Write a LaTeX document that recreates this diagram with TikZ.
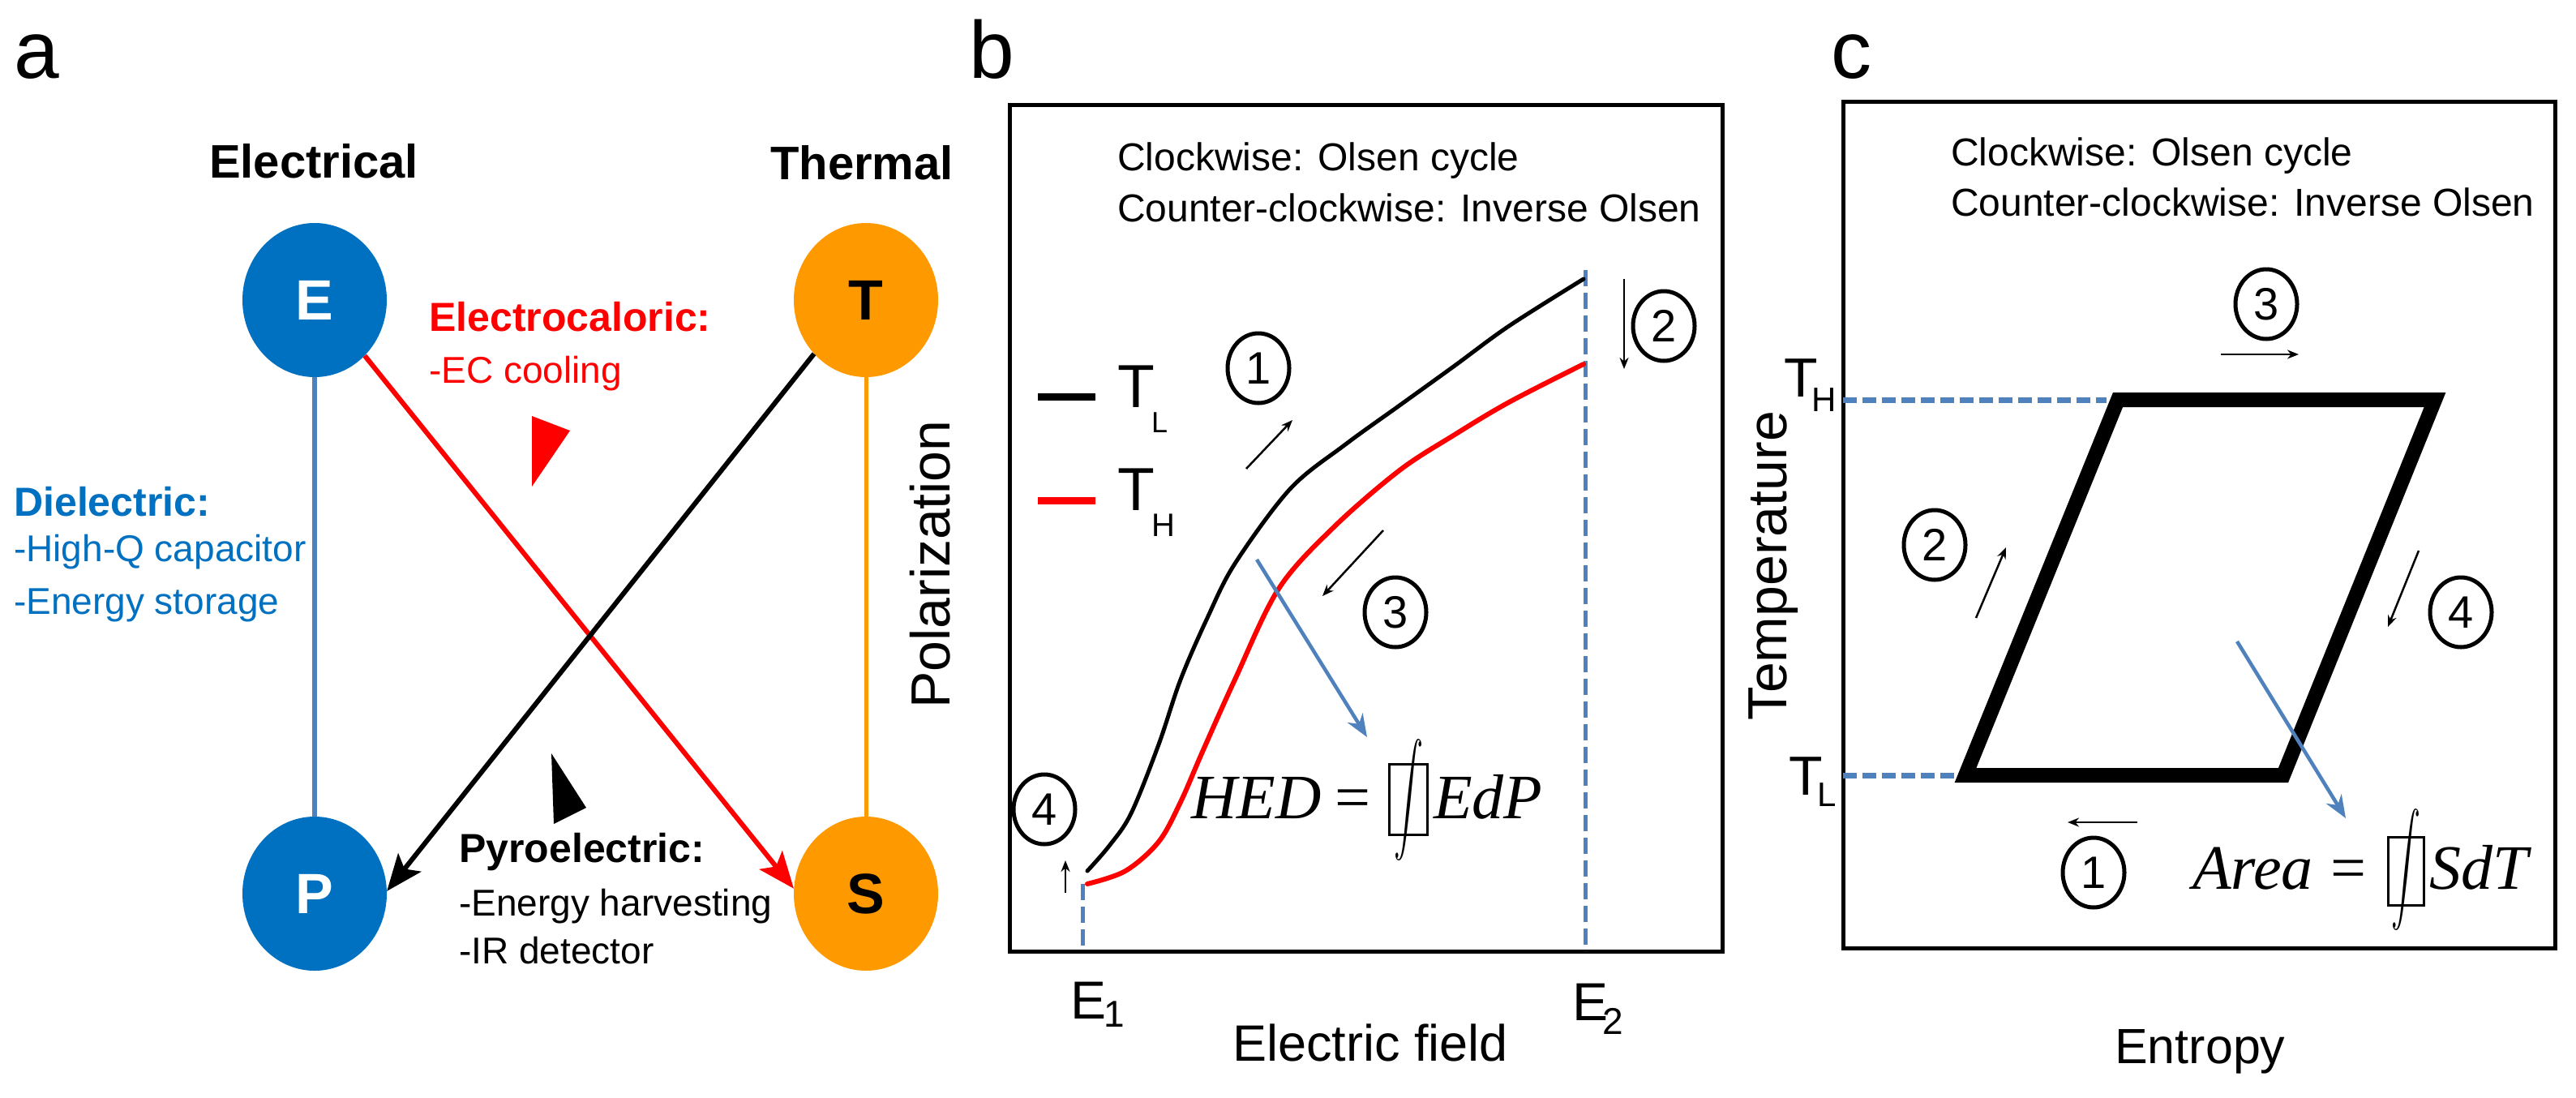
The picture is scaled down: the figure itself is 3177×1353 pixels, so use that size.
\documentclass[tikz,border=0pt]{standalone}
\usepackage{graphicx}
\usepackage{fontspec}
\setmainfont{Liberation Sans}
\newfontfamily\timesf{Liberation Serif}
\usetikzlibrary{arrows.meta,shapes.geometric}
\definecolor{cblue}{HTML}{0070C0}
\definecolor{lblue}{HTML}{4F81BD}
\definecolor{corange}{HTML}{FF9900}
\newcommand\myfs[1]{\fontsize{#1}{#1}\selectfont}
\newcommand\bigintsign{\resizebox*{36pt}{150pt}{$\displaystyle\int$}}
\begin{document}
\begin{tikzpicture}[x=1pt,y=-1pt,
  bubble/.style={ellipse, minimum width=178pt, minimum height=190pt, inner sep=0pt, font=\myfs{70}\bfseries},
  cnum/.style={ellipse, draw, line width=5pt, minimum width=76pt, minimum height=86pt, inner sep=0pt, font=\myfs{56}},
  lbl/.style={inner sep=0pt, anchor=base west},
  clbl/.style={inner sep=0pt, anchor=base},
  smallarrow/.style={line width=2.5pt, -{Stealth[length=14pt,width=11pt]}},
  bluearrow/.style={lblue, line width=4.5pt, -{Stealth[length=28pt,width=22pt]}},
  bigarrow/.style={line width=6pt, -{Stealth[length=45pt,width=36pt,inset=10pt]}},
  bdashed/.style={lblue, line width=5pt, dash pattern=on 20pt off 8pt},
  frame/.style={line width=5pt},
  formula/.style={inner sep=0pt, anchor=base west, font=\timesf\itshape\myfs{78}},
  intsign/.style={inner sep=0pt}
]
\useasboundingbox (0,0) rectangle (3177,1353);
\fill[white] (0,0) rectangle (3177,1353);

% ---------------- panel a ----------------
\node[lbl, font=\myfs{100}] (la) at (17,96) {a};
\node[clbl, font=\myfs{58}\bfseries] (elec) at (387,219) {Electrical};
\node[clbl, font=\myfs{58}\bfseries] (therm) at (1063,221) {Thermal};
\node[bubble, fill=cblue, text=white] (E) at (388,370) {E};
\node[bubble, fill=corange, text=black] (T) at (1068,370) {T};
\node[bubble, fill=cblue, text=white] (P) at (388,1102) {P};
\node[bubble, fill=corange, text=black] (S) at (1068,1102) {S};
\draw[lblue, line width=6pt] (E) -- (P);
\draw[corange, line width=5pt] (T) -- (S);
\draw[red, bigarrow] (E.-48) -- (S.176);
\draw[black, bigarrow] (T.-134) -- (P.2);
\fill[red] (656,513) -- (703,531) -- (656,600) -- cycle;
\fill[black] (680,929) -- (723,996) -- (683,1016) -- cycle;
\node[lbl, red, font=\myfs{50}\bfseries] (ecal) at (529,408) {Electrocaloric:};
\node[lbl, red, font=\myfs{46}] (ecool) at (529,472) {-EC cooling};
\node[lbl, cblue, font=\myfs{50}\bfseries] (diel) at (17,636) {Dielectric:};
\node[lbl, cblue, font=\myfs{46}] (hiq) at (17,692) {-High-Q capacitor};
\node[lbl, cblue, font=\myfs{46}] (estor) at (17,757) {-Energy storage};
\node[lbl, font=\myfs{50}\bfseries] (pyro) at (566,1063) {Pyroelectric:};
\node[lbl, font=\myfs{46}] (eharv) at (566,1129) {-Energy harvesting};
\node[lbl, font=\myfs{46}] (irdet) at (566,1188) {-IR detector};

% ---------------- panel b ----------------
\node[lbl, font=\myfs{100}] (lb) at (1195,96) {b};
\draw[frame] (1245,129) rectangle (2124,1173);
\node[lbl, font=\myfs{48}] (bcw) at (1378,210) {Clockwise: Olsen cycle};
\node[lbl, font=\myfs{48}] (bccw) at (1378,273) {Counter-clockwise: Inverse Olsen};
% legend
\draw[line width=9pt] (1280,489) -- (1351,489);
\draw[red, line width=9pt] (1280,617) -- (1351,617);
\node[lbl, font=\myfs{75}] (tl) at (1378,502) {T};
\node[lbl, font=\myfs{36}] (tlsub) at (1420,533) {L};
\node[lbl, font=\myfs{75}] (th) at (1378,629) {T};
\node[lbl, font=\myfs{40}] (thsub) at (1420,661) {H};
% dashed field lines
\coordinate (e1top) at (1335,1090);
\coordinate (e1bot) at (1335,1173);
\coordinate (e2top) at (1955,333);
\coordinate (e2bot) at (1955,1173);
\draw[bdashed] (e1top) -- (e1bot);
\draw[bdashed] (e2top) -- (e2bot);
% curves
\draw[line width=5pt, line cap=round] plot[smooth, tension=0.55] coordinates {(1341,1074) (1368,1043) (1395,1003) (1429,918) (1456,838) (1489,762) (1523,695) (1591,603) (1658,549) (1726,500) (1794,451) (1861,402) (1953,344)};
\draw[red, line width=6pt, line cap=round] plot[smooth, tension=0.55] coordinates {(1341,1090) (1388,1074) (1429,1038) (1456,989) (1483,927) (1523,838) (1577,726) (1645,650) (1726,580) (1794,536) (1861,496) (1953,449)};
% circled numbers and small arrows
\node[cnum] (b1) at (1552,454) {1};
\node[cnum] (b2) at (2052,402) {2};
\node[cnum] (b3) at (1721,755) {3};
\node[cnum] (b4) at (1288,998) {4};
\coordinate (ba1s) at (1537,578); \coordinate (ba1e) at (1594,518);
\coordinate (ba2s) at (2003,344); \coordinate (ba2e) at (2003,455);
\coordinate (ba3s) at (1706,654); \coordinate (ba3e) at (1631,735);
\coordinate (ba4s) at (1314,1101); \coordinate (ba4e) at (1314,1061);
\draw[smallarrow] (ba1s) -- (ba1e);
\draw[smallarrow] (ba2s) -- (ba2e);
\draw[smallarrow] (ba3s) -- (ba3e);
\draw[smallarrow] (ba4s) -- (ba4e);
% formula
\coordinate (bbs) at (1550,690); \coordinate (bbe) at (1686,909);
\draw[bluearrow] (bbs) -- (bbe);
\node[formula] (hed) at (1469,1009) {HED};
\node[clbl, font=\timesf\myfs{78}] (heq) at (1668,1009) {=};
\draw[line width=3pt] (1713,942) rectangle (1760,1029);
\node[intsign] (hint) at (1737,986) {\bigintsign};
\node[formula] (edp) at (1768,1009) {EdP};
% axis labels
\node[lbl, font=\myfs{66}] (e1) at (1320,1256) {E};
\node[lbl, font=\myfs{46}] (e1s) at (1361,1266) {1};
\node[lbl, font=\myfs{66}] (e2) at (1939,1258) {E};
\node[lbl, font=\myfs{46}] (e2s) at (1976,1275) {2};
\node[lbl, font=\myfs{63}] (efield) at (1520,1308) {Electric field};
\node[inner sep=0pt, rotate=90, font=\myfs{68}] (polar) at (1147,696) {Polarization};

% ---------------- panel c ----------------
\node[lbl, font=\myfs{100}] (lc) at (2258,96) {c};
\draw[frame] (2273,125) rectangle (3151,1169);
\node[lbl, font=\myfs{48}] (ccw) at (2406,204) {Clockwise: Olsen cycle};
\node[lbl, font=\myfs{48}] (cccw) at (2406,266) {Counter-clockwise: Inverse Olsen};
\node[lbl, font=\myfs{68}] (cth) at (2200,489) {T};
\node[lbl, font=\myfs{42}] (cths) at (2234,507) {H};
\node[lbl, font=\myfs{68}] (ctl) at (2206,980) {T};
\node[lbl, font=\myfs{42}] (ctls) at (2241,994) {L};
\coordinate (thl) at (2273,493); \coordinate (thr) at (2598,493);
\coordinate (tll) at (2273,956); \coordinate (tlr) at (2416,956);
\draw[lblue, line width=7pt, dash pattern=on 17pt off 7pt] (thl) -- (thr);
\draw[lblue, line width=7pt, dash pattern=on 17pt off 7pt] (tll) -- (tlr);
\draw[line width=18pt, line join=miter] (2612,493) -- (3003,493) -- (2816,956) -- (2424,956) -- cycle;
\node[cnum] (c3) at (2795,375) {3};
\node[cnum] (c2) at (2386,672) {2};
\node[cnum] (c4) at (3035,755) {4};
\node[cnum] (c1) at (2582,1076) {1};
\coordinate (ca3s) at (2739,437); \coordinate (ca3e) at (2835,437);
\coordinate (ca2s) at (2437,762); \coordinate (ca2e) at (2474,675);
\coordinate (ca4s) at (2983,679); \coordinate (ca4e) at (2945,773);
\coordinate (ca1s) at (2636,1014); \coordinate (ca1e) at (2550,1014);
\draw[smallarrow] (ca3s) -- (ca3e);
\draw[smallarrow] (ca2s) -- (ca2e);
\draw[smallarrow] (ca4s) -- (ca4e);
\draw[smallarrow] (ca1s) -- (ca1e);
\coordinate (cbs) at (2759,791); \coordinate (cbe) at (2893,1009);
\draw[bluearrow] (cbs) -- (cbe);
\node[formula] (area) at (2704,1096) {Area};
\node[clbl, font=\timesf\myfs{78}] (ceq) at (2896,1096) {=};
\draw[line width=3pt] (2945,1032) rectangle (2989,1116);
\node[intsign] (cint) at (2967,1072) {\bigintsign};
\node[formula] (sdt) at (2996,1096) {SdT};
\node[lbl, font=\myfs{61}] (entropy) at (2608,1311) {Entropy};
\node[inner sep=0pt, rotate=90, font=\myfs{68}] (temp) at (2187,698) {Temperature};
\end{tikzpicture}
\end{document}
